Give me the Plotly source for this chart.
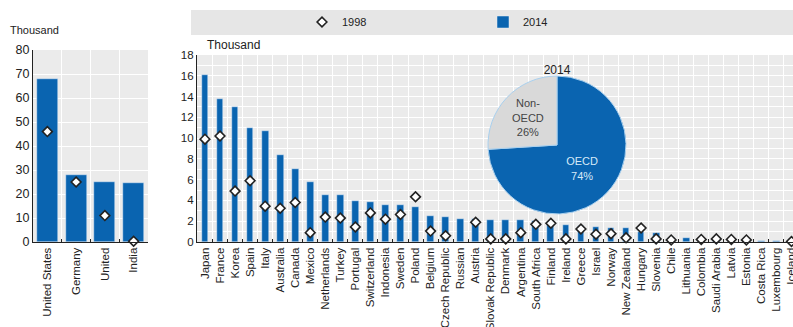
import plotly.graph_objects as go

# ---------------- data ----------------
big_countries = ["United States", "Germany", "United", "India"]
big_2014 = [68, 28, 25, 24.5]
big_1998 = [46, 25, 11, 0.3]

countries = ["Japan", "France", "Korea", "Spain", "Italy", "Australia", "Canada", "Mexico",
             "Netherlands", "Turkey", "Portugal", "Switzerland", "Indonesia", "Sweden", "Poland",
             "Belgium", "Czech Republic", "Russian", "Austria", "Slovak Republic", "Denmark",
             "Argentina", "South Africa", "Finland", "Ireland", "Greece", "Israel", "Norway",
             "New Zealand", "Hungary", "Slovenia", "Chile", "Lithuania", "Colombia",
             "Saudi Arabia", "Latvia", "Estonia", "Costa Rica", "Luxembourg", "Iceland"]
v2014 = [16.1, 13.8, 13.0, 10.95, 10.7, 8.4, 7.05, 5.75,
         4.5, 4.5, 3.95, 3.85, 3.6, 3.55, 3.35,
         2.5, 2.4, 2.2, 2.2, 2.15, 2.1,
         2.1, 2.0, 1.9, 1.65, 1.55, 1.4, 1.3,
         1.3, 1.0, 0.85, 0.35, 0.35, 0.15,
         0.12, 0.1, 0.08, 0.05, 0.05, 0.03]
v1998 = [9.9, 10.2, 4.9, 5.9, 3.45, 3.25, 3.8, 0.9,
         2.4, 2.3, 1.45, 2.8, 2.2, 2.65, 4.35,
         1.05, 0.6, None, 1.9, 0.3, 0.3,
         0.9, 1.7, 1.8, 0.3, 1.25, 0.75, 0.8,
         0.4, 1.35, 0.3, 0.2, None, 0.25,
         0.3, 0.25, 0.2, None, None, 0.05]

pie_labels = ["OECD", "Non-<br>OECD"]
pie_values = [74, 26]

# ---------------- style ----------------
W, H = 793, 327
BLUE = "#0a64b0"
BG = "#ebebeb"
FONT = "Liberation Sans Narrow, Liberation Sans, Arial, sans-serif"

def px(x):
    return x / W

def py(y):
    return 1 - y / H

DIAMOND = dict(symbol="diamond", size=7.5, color="white", line=dict(color="#222", width=1.6))

fig = go.Figure()

# left panel
fig.add_trace(go.Bar(x=big_countries, y=big_2014, marker_color=BLUE, width=0.73,
                     xaxis="x", yaxis="y", showlegend=False))
fig.add_trace(go.Scatter(x=big_countries, y=big_1998, mode="markers", xaxis="x", yaxis="y",
                         marker=DIAMOND, showlegend=False, cliponaxis=False))

# right panel
fig.add_trace(go.Bar(x=countries, y=v2014, marker_color=BLUE, width=0.45,
                     xaxis="x2", yaxis="y2", name="2014", legend="legend2"))
fig.add_trace(go.Scatter(x=countries, y=v1998, mode="markers", xaxis="x2", yaxis="y2",
                         name="1998", legend="legend", marker=DIAMOND, cliponaxis=False))

# pie
fig.add_trace(go.Pie(labels=pie_labels, values=pie_values, sort=False, direction="clockwise",
                     rotation=0, textinfo="label+percent", textposition="inside",
                     insidetextorientation="horizontal",
                     marker=dict(colors=[BLUE, "#d9d9d9"], line=dict(color="#a9d0ee", width=1)),
                     insidetextfont=dict(color=["#d6eaf8", "#444"], size=11, family=FONT),
                     title=dict(text="2014", position="top center",
                                font=dict(size=12, color="#222", family=FONT)),
                     domain=dict(x=[px(488), px(626)], y=[py(214), py(62)]),
                     showlegend=False, hoverinfo="label+percent"))

line_common = dict(showline=True, linecolor="#222", linewidth=1.2, automargin=False)

fig.update_layout(
    width=W, height=H,
    margin=dict(l=0, r=0, t=0, b=0, autoexpand=False),
    paper_bgcolor="white", plot_bgcolor=BG,
    font=dict(family=FONT, color="#222"),
    bargap=0,
    xaxis=dict(domain=[px(33), px(148)], anchor="y", type="category",
               tickangle=-90, showgrid=True, gridcolor="white", gridwidth=1,
               tickson="boundaries", ticks="inside", ticklen=3, tickcolor="#222",
               range=[-0.5, 3.5], tickfont=dict(size=11.5, color="#222", family=FONT),
               **line_common),
    yaxis=dict(domain=[py(242), py(50)], anchor="x", range=[0, 80], dtick=10,
               showgrid=True, gridcolor="white", gridwidth=1, ticks="", zeroline=False,
               tickfont=dict(size=12.5, color="#222", family=FONT), **line_common),
    xaxis2=dict(domain=[px(197), 1.0], anchor="y2", type="category",
                tickangle=-90, showgrid=True, gridcolor="white", gridwidth=1,
                tickson="boundaries", ticks="inside", ticklen=3, tickcolor="#222",
                range=[-0.53, 39.1], tickfont=dict(size=11.5, color="#222", family=FONT),
                **line_common),
    yaxis2=dict(domain=[py(242), py(55)], anchor="x2", range=[0, 18], dtick=2,
                showgrid=True, gridcolor="white", gridwidth=1, ticks="", zeroline=False,
                minor=dict(dtick=1, showgrid=True, gridcolor="white", gridwidth=1),
                tickfont=dict(size=11.5, color="#222", family=FONT), **line_common),
    legend=dict(x=px(302), y=py(22), xanchor="left", yanchor="middle",
                orientation="h", bgcolor="rgba(0,0,0,0)", itemwidth=30,
                font=dict(size=11, color="#222", family=FONT)),
    legend2=dict(x=px(483), y=py(22), xanchor="left", yanchor="middle",
                 orientation="h", bgcolor="rgba(0,0,0,0)", itemwidth=30,
                 font=dict(size=11, color="#222", family=FONT)),
    shapes=[dict(type="rect", xref="paper", yref="paper", x0=px(191), x1=1.0,
                 y0=py(35), y1=py(10), fillcolor="#e6e6e6", line=dict(width=0), layer="below")],
    annotations=[
        dict(text="Thousand", xref="paper", yref="paper", x=px(8), y=py(30),
             xanchor="left", yanchor="middle", showarrow=False,
             font=dict(size=11, color="#222", family=FONT)),
        dict(text="Thousand", xref="paper", yref="paper", x=px(205), y=py(45),
             xanchor="left", yanchor="middle", showarrow=False,
             font=dict(size=12, color="#222", family=FONT)),
    ],
)

fig.write_html("out.html", config={"displayModeBar": False},
               post_script="document.body.style.margin='0';document.body.style.overflow='hidden';")
